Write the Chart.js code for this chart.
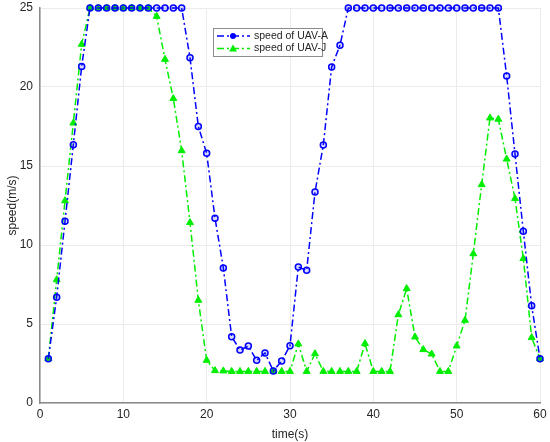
<!DOCTYPE html>
<html>
<head>
<meta charset="utf-8">
<script src="https://cdn.jsdelivr.net/npm/chart.js@4.4.0/dist/chart.umd.min.js"></script>
<style>
  html, body { margin: 0; padding: 0; background: #fff; }
  #wrap { width: 550px; height: 442px; position: relative; }
</style>
</head>
<body>
<div id="wrap"><canvas id="myChart" width="550" height="442"></canvas></div>
<script>
// time in seconds
const times = [];
for (let t = 1; t <= 60; t++) times.push(t);

const speedA = [
  2.8, 6.7, 11.5, 16.35, 21.3, 25, 25, 25, 25, 25,
  25, 25, 25, 25, 25, 25, 25, 21.85, 17.5, 15.8,
  11.7, 8.55, 4.2, 3.35, 3.6, 2.7, 3.17, 2.03, 2.66, 3.63,
  8.6, 8.4, 13.35, 16.33, 21.27, 22.65, 25, 25, 25, 25,
  25, 25, 25, 25, 25, 25, 25, 25, 25, 25,
  25, 25, 25, 25, 25, 20.7, 15.76, 10.87, 6.16, 2.8
];

const speedJ = [
  2.8, 7.8, 12.8, 17.72, 22.7, 25, 25, 25, 25, 25,
  25, 25, 25, 24.47, 21.75, 19.27, 15.97, 11.42, 6.5, 2.7,
  2.05, 2.03, 2, 2, 2, 2, 2, 2, 2, 2,
  3.74, 2, 3.12, 2, 2, 2, 2, 2, 3.76, 2,
  2, 2, 5.59, 7.24, 4.18, 3.38, 3.1, 2, 2, 3.61,
  5.23, 9.45, 13.82, 18.04, 17.96, 15.44, 12.94, 9.14, 4.14, 2.8
];

const seriesNames = ["speed of UAV-A", "speed of UAV-J"];
const xTicks = [0, 10, 20, 30, 40, 50, 60];
const yTicks = [0, 5, 10, 15, 20, 25];

const blue = "#0000ff";
const green = "#00ee00";
const dashDot = [7, 3, 2, 3];
const fontFam = "'Liberation Sans', Arial, sans-serif";

const toPoints = (ys) => times.map((t, i) => ({ x: t, y: ys[i] }));

// legend drawn inside the plot, like the original figure
const boxLegend = {
  id: "boxLegend",
  afterDraw(chart) {
    const ctx = chart.ctx;
    const x0 = 213, y0 = 28, w = 109, h = 28;
    ctx.save();
    ctx.fillStyle = "#fff";
    ctx.fillRect(x0, y0, w, h);
    ctx.strokeStyle = "#8c8c8c";
    ctx.lineWidth = 1;
    ctx.strokeRect(x0 + 0.5, y0 + 0.5, w, h);
    ctx.font = "10.5px " + fontFam;
    ctx.textBaseline = "middle";
    chart.data.datasets.forEach((ds, i) => {
      const yy = y0 + 8 + i * 12.5;
      ctx.strokeStyle = ds.borderColor;
      ctx.lineWidth = 1.5;
      ctx.setLineDash(dashDot);
      ctx.beginPath();
      ctx.moveTo(x0 + 4, yy);
      ctx.lineTo(x0 + 37, yy);
      ctx.stroke();
      ctx.setLineDash([]);
      const cx = x0 + 20;
      ctx.beginPath();
      if (ds.pointStyle === "triangle") {
        ctx.moveTo(cx, yy - 4);
        ctx.lineTo(cx + 4, yy + 3);
        ctx.lineTo(cx - 4, yy + 3);
        ctx.closePath();
      } else {
        ctx.arc(cx, yy, 3, 0, Math.PI * 2);
      }
      ctx.fillStyle = ds.borderColor;
      ctx.fill();
      ctx.fillStyle = "#262626";
      ctx.fillText(ds.label, x0 + 41, yy);
    });
    ctx.restore();
  }
};

const data = {
  datasets: [
    {
      label: seriesNames[0],
      data: toPoints(speedA),
      borderColor: blue,
      backgroundColor: blue,
      borderWidth: 1.5,
      borderDash: dashDot,
      pointStyle: "circle",
      pointRadius: 3,
      pointBorderWidth: 1.5,
      pointBorderColor: blue,
      pointBackgroundColor: "rgba(0,0,255,0.15)",
      tension: 0,
    },
    {
      label: seriesNames[1],
      data: toPoints(speedJ),
      borderColor: green,
      backgroundColor: green,
      borderWidth: 1.5,
      borderDash: dashDot,
      pointStyle: "triangle",
      pointRadius: 4,
      pointBorderWidth: 1,
      pointBorderColor: green,
      pointBackgroundColor: green,
      tension: 0,
    },
  ],
};

const config = {
  type: "line",
  data: data,
  options: {
    responsive: false,
    animation: false,
    clip: false,
    layout: { padding: { top: 8, right: 10, left: 0, bottom: 0 } },
    plugins: {
      legend: { display: false },
      tooltip: { enabled: false },
    },
    scales: {
      x: {
        type: "linear",
        min: 0,
        max: 60,
        afterBuildTicks: (axis) => { axis.ticks = xTicks.map((v) => ({ value: v })); },
        afterFit: (axis) => { axis.height = 39; axis.paddingLeft = 0; axis.paddingRight = 0; },
        grid: { color: "#ebebeb", drawTicks: false },
        border: { color: "#8a8a8a", width: 1.5 },
        ticks: { color: "#262626", font: { family: fontFam, size: 12 }, padding: 4, maxRotation: 0 },
        title: { display: true, text: "time(s)", color: "#262626", font: { family: fontFam, size: 12 }, padding: { top: 1, bottom: 0 } },
      },
      y: {
        min: 0,
        max: 25,
        afterBuildTicks: (axis) => { axis.ticks = yTicks.map((v) => ({ value: v })); },
        afterFit: (axis) => { axis.width = 40; axis.paddingTop = 0; axis.paddingBottom = 0; },
        grid: { color: "#ebebeb", drawTicks: false },
        border: { color: "#8a8a8a", width: 1.5 },
        ticks: { color: "#262626", font: { family: fontFam, size: 12 }, padding: 7 },
        title: { display: true, text: "speed(m/s)", color: "#262626", font: { family: fontFam, size: 12 }, padding: { top: 5, bottom: 0 } },
      },
    },
  },
  plugins: [boxLegend],
};

const myChart = new Chart(document.getElementById("myChart"), config);
</script>
</body>
</html>
